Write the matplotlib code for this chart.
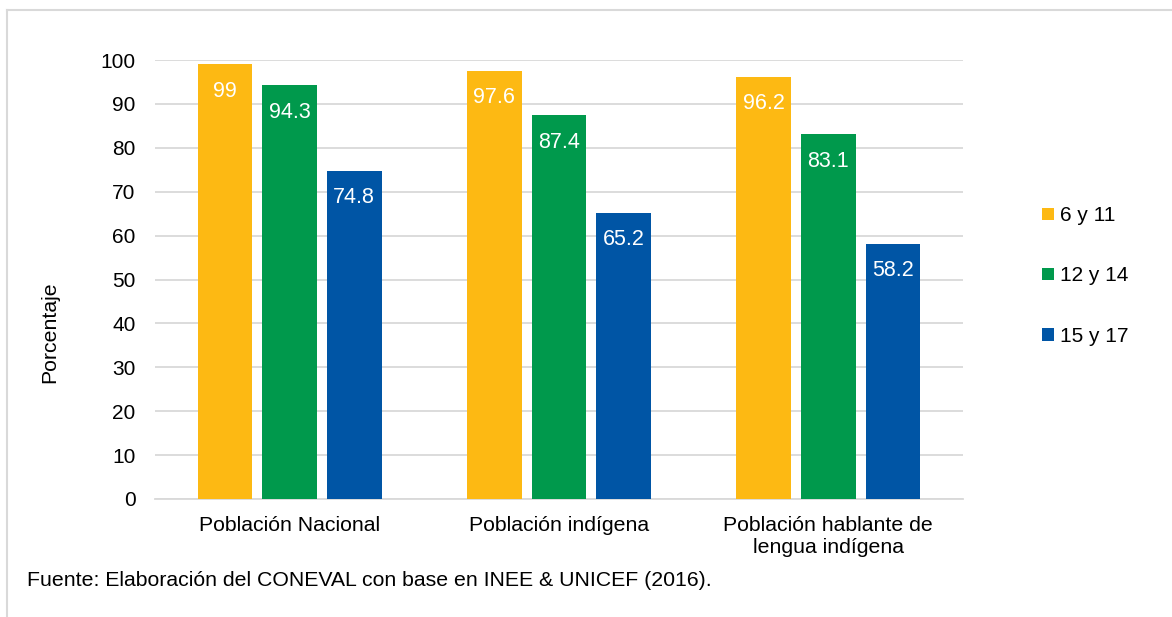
import numpy as np
import matplotlib.pyplot as plt
from matplotlib.lines import Line2D

plt.rcParams['font.family'] = ['Liberation Sans', 'DejaVu Sans']

# datos
grupos = ['Población Nacional', 'Población indígena', 'Población hablante de\nlengua indígena']
series = ['6 y 11', '12 y 14', '15 y 17']
edad_6_11 = [99, 97.6, 96.2]
edad_12_14 = [94.3, 87.4, 83.1]
edad_15_17 = [74.8, 65.2, 58.2]
colores = ['#FDB913', '#00994C', '#0055A5']

W, H = 1172, 617
fig = plt.figure(figsize=(W / 100, H / 100), dpi=100)
ax = fig.add_axes([155 / W, 1 - 499 / H, (963 - 155) / W, (499 - 60) / H])

x = np.arange(len(grupos))
ancho = 0.204
paso = 0.24
valores = [edad_6_11, edad_12_14, edad_15_17]
for k, (vals, c, nombre) in enumerate(zip(valores, colores, series)):
    pos = x + (k - 1) * paso
    barras = ax.bar(pos, vals, ancho, color=c, label=nombre, zorder=3)
    for b, v in zip(barras, vals):
        ax.annotate('{:g}'.format(v), (b.get_x() + b.get_width() / 2, v),
                    xytext=(0, -12), textcoords='offset points',
                    ha='center', va='top', color='white', fontsize=15.5)

ax.set_xlim(-0.5, 2.5)
ax.set_ylim(0, 100)
ax.set_yticks(range(0, 101, 10))
ax.set_xticks(x)
ax.set_xticklabels(grupos, fontsize=15.3, linespacing=1.25)
ax.tick_params(axis='y', labelsize=15, length=0, pad=14)
ax.tick_params(axis='x', length=0, pad=12)
ax.grid(axis='y', color='#D9D9D9', linewidth=1.3, zorder=0)
for s in ['top', 'right', 'left']:
    ax.spines[s].set_visible(False)
ax.spines['bottom'].set_color('#D9D9D9')
ax.spines['bottom'].set_linewidth(1.3)

fig.text(50 / W, 1 - 332 / H, 'Porcentaje', rotation=90, fontsize=15.3,
         ha='center', va='center')

# leyenda
ax.legend(loc='center left', bbox_to_anchor=(1.075, 0.508), frameon=False,
          fontsize=15, handlelength=0.55, handleheight=0.55, handletextpad=0.3,
          labelspacing=1.98)

fig.text(27 / W, 1 - 580 / H, 'Fuente: Elaboración del CONEVAL con base en INEE & UNICEF (2016).',
         fontsize=15.3, va='center', ha='left')

# borde
fig.add_artist(Line2D([7 / W, 1], [1 - 10 / H, 1 - 10 / H], color='#D9D9D9', linewidth=1.5))
fig.add_artist(Line2D([7 / W, 7 / W], [0, 1 - 10 / H], color='#D9D9D9', linewidth=1.5))

plt.savefig('out.png', dpi=100)
